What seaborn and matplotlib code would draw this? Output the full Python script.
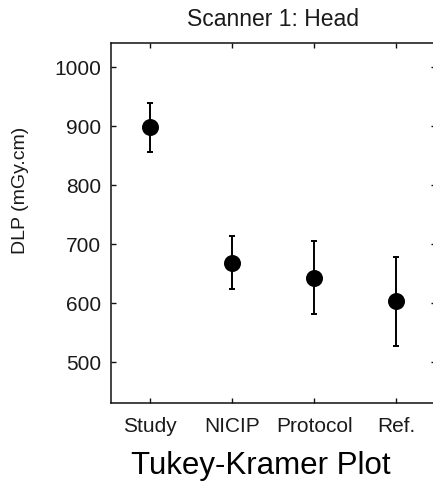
import numpy as np
import matplotlib
matplotlib.use("Agg")
import matplotlib.pyplot as plt
import seaborn as sns

# Tukey-Kramer comparison intervals for head-scan DLP
groups = ["Study", "NICIP", "Protocol", "Ref."]
means = [898, 669, 643, 603]
half_widths = [41, 45, 62, 75]
y_ticks = [500, 600, 700, 800, 900, 1000]

sns.set_theme(style="ticks")
plt.rcParams["font.family"] = ["Liberation Sans", "DejaVu Sans"]

W, H, DPI = 433, 493, 100
fig = plt.figure(figsize=(W / DPI, H / DPI), dpi=DPI)
left_px, right_px, top_px, bottom_px = 111, 435.5, 43, 403
ax = fig.add_axes([left_px / W, 1 - bottom_px / H,
                   (right_px - left_px) / W, (bottom_px - top_px) / H])

pos = np.arange(len(groups))
sns.pointplot(x=groups, y=means, color="black", linestyle="none", marker="o",
              markersize=10.2, errorbar=None, ax=ax, zorder=3)
ax.errorbar(pos, means, yerr=half_widths, fmt="none", ecolor="black",
            elinewidth=1.4, capsize=2.4, capthick=1.4, zorder=2)

ax.set_xlim(-0.476, 3.48)
ax.set_ylim(431, 1041)
ax.set_yticks(y_ticks)
ax.set_xticks(pos)
ax.set_xticklabels(groups)

for side in ["left", "right", "top", "bottom"]:
    ax.spines[side].set_visible(True)
    ax.spines[side].set_linewidth(1.1)
    ax.spines[side].set_color("#111111")

ax.tick_params(axis="both", which="major", direction="in", length=3.5,
               width=1.0, color="#111111", labelsize=15, labelcolor="#1a1a1a",
               top=True, right=True, pad=7)
ax.tick_params(axis="x", pad=10)

ax.set_xlabel("")
ax.set_ylabel("DLP (mGy.cm)", fontsize=14, color="#1a1a1a")
ax.yaxis.set_label_coords((29 - left_px) / (right_px - left_px),
                          (bottom_px - 190) / (bottom_px - top_px))
ax.set_title("Scanner 1: Head", fontsize=16.5, color="#1a1a1a", pad=12)

fig.text(261 / W, 1 - 474 / H, "Tukey-Kramer Plot", ha="center", va="baseline",
         fontsize=22.5, color="black")

fig.savefig("out.png", dpi=DPI, facecolor="white")
